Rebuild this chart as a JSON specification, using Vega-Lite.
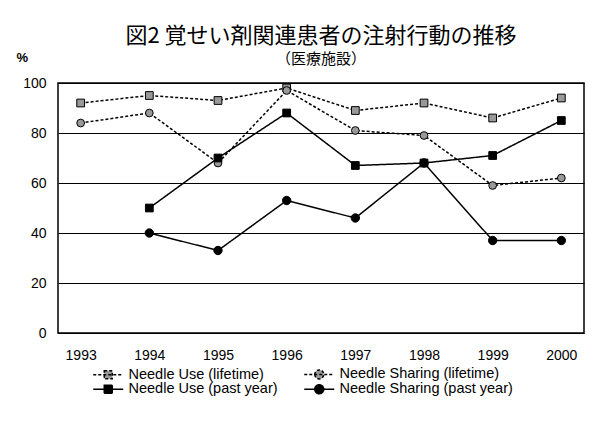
{
  "$schema": "https://vega.github.io/schema/vega-lite/v6.json",
  "width": 526,
  "height": 250,
  "autosize": "none",
  "padding": {"left": 58, "top": 83, "right": 30, "bottom": 97},
  "background": "white",
  "config": {"view": {"stroke": "black", "strokeWidth": 1.5}, "font": "Liberation Sans"},
  "title": {
    "text": "図2  覚せい剤関連患者の注射行動の推移",
    "subtitle": "（医療施設）",
    "font": "Noto Sans CJK JP",
    "fontSize": 22,
    "fontWeight": "normal",
    "subtitleFont": "Noto Sans CJK JP",
    "subtitleFontSize": 15,
    "anchor": "middle",
    "frame": "group",
    "offset": -17,
    "subtitlePadding": 4,
    "color": "black",
    "subtitleColor": "black"
  },
  "data": {
    "values": [
      {"year": "1993", "series": "Needle Use (lifetime)", "value": 92},
      {"year": "1994", "series": "Needle Use (lifetime)", "value": 95},
      {"year": "1995", "series": "Needle Use (lifetime)", "value": 93},
      {"year": "1996", "series": "Needle Use (lifetime)", "value": 98},
      {"year": "1997", "series": "Needle Use (lifetime)", "value": 89},
      {"year": "1998", "series": "Needle Use (lifetime)", "value": 92},
      {"year": "1999", "series": "Needle Use (lifetime)", "value": 86},
      {"year": "2000", "series": "Needle Use (lifetime)", "value": 94},
      {"year": "1993", "series": "Needle Sharing (lifetime)", "value": 84},
      {"year": "1994", "series": "Needle Sharing (lifetime)", "value": 88},
      {"year": "1995", "series": "Needle Sharing (lifetime)", "value": 68},
      {"year": "1996", "series": "Needle Sharing (lifetime)", "value": 97},
      {"year": "1997", "series": "Needle Sharing (lifetime)", "value": 81},
      {"year": "1998", "series": "Needle Sharing (lifetime)", "value": 79},
      {"year": "1999", "series": "Needle Sharing (lifetime)", "value": 59},
      {"year": "2000", "series": "Needle Sharing (lifetime)", "value": 62},
      {"year": "1994", "series": "Needle Use (past year)", "value": 50},
      {"year": "1995", "series": "Needle Use (past year)", "value": 70},
      {"year": "1996", "series": "Needle Use (past year)", "value": 88},
      {"year": "1997", "series": "Needle Use (past year)", "value": 67},
      {"year": "1998", "series": "Needle Use (past year)", "value": 68},
      {"year": "1999", "series": "Needle Use (past year)", "value": 71},
      {"year": "2000", "series": "Needle Use (past year)", "value": 85},
      {"year": "1994", "series": "Needle Sharing (past year)", "value": 40},
      {"year": "1995", "series": "Needle Sharing (past year)", "value": 33},
      {"year": "1996", "series": "Needle Sharing (past year)", "value": 53},
      {"year": "1997", "series": "Needle Sharing (past year)", "value": 46},
      {"year": "1998", "series": "Needle Sharing (past year)", "value": 68},
      {"year": "1999", "series": "Needle Sharing (past year)", "value": 37},
      {"year": "2000", "series": "Needle Sharing (past year)", "value": 37}
    ]
  },
  "encoding": {
    "x": {
      "field": "year",
      "type": "ordinal",
      "scale": {"type": "point", "padding": 0.33},
      "axis": {"title": null, "labelAngle": 0, "ticks": false, "domain": false, "grid": false, "labelFontSize": 14, "labelColor": "black", "labelPadding": 15}
    },
    "y": {
      "field": "value",
      "type": "quantitative",
      "scale": {"domain": [0, 100]},
      "axis": {
        "title": "%",
        "values": [0, 20, 40, 60, 80, 100],
        "grid": true,
        "gridColor": "black",
        "gridWidth": 1,
        "ticks": false,
        "domain": false,
        "labelFontSize": 14,
        "labelColor": "black",
        "labelPadding": 12,
        "titleAngle": 0,
        "titleX": -42,
        "titleY": -26,
        "titleAlign": "left",
        "titleBaseline": "middle",
        "titleFontSize": 13,
        "titleFontWeight": "bold",
        "titleColor": "black"
      }
    }
  },
  "layer": [
    {
      "mark": {"type": "line", "color": "black", "strokeWidth": 1.5},
      "encoding": {
        "strokeDash": {
          "field": "series",
          "type": "nominal",
          "scale": {
            "domain": ["Needle Use (lifetime)", "Needle Sharing (lifetime)", "Needle Use (past year)", "Needle Sharing (past year)"],
            "range": [[3, 2], [3, 2], [1, 0], [1, 0]]
          },
          "legend": {
            "title": null,
            "orient": "none",
            "legendX": 43,
            "legendY": 284,
            "direction": "horizontal",
            "columns": 2,
            "columnPadding": 23,
            "rowPadding": -3,
            "labelFontSize": 14.5,
            "labelColor": "black",
            "labelOffset": 13,
            "labelLimit": 400,
            "symbolSize": 100,
            "symbolStrokeColor": "black",
            "symbolStrokeWidth": 1.5,
            "padding": 0,
            "encode": {
              "symbols": {
                "update": {
                  "shape": {"signal": "indexof(datum.value,'Use')>=0 ? 'M-3,0H3M-0.8,-0.8H0.8V0.8H-0.8Z' : 'M-3,0H3M-0.9,0A0.9,0.9,0,1,0,0.9,0A0.9,0.9,0,1,0,-0.9,0Z'"},
                  "fill": {"signal": "indexof(datum.value,'past')>=0 ? 'black' : '#999999'"},
                  "stroke": {"value": "black"},
                  "strokeWidth": {"value": 1.5},
                  "strokeOpacity": {"value": 1},
                  "opacity": {"value": 1}
                }
              }
            }
          }
        }
      }
    },
    {
      "transform": [{"filter": "datum.series == 'Needle Use (lifetime)'"}],
      "mark": {"type": "point", "shape": "square", "filled": true, "size": 60, "fill": "#999999", "stroke": "black", "strokeWidth": 1, "opacity": 1}
    },
    {
      "transform": [{"filter": "datum.series == 'Needle Sharing (lifetime)'"}],
      "mark": {"type": "point", "shape": "circle", "filled": true, "size": 60, "fill": "#999999", "stroke": "black", "strokeWidth": 1, "opacity": 1}
    },
    {
      "transform": [{"filter": "datum.series == 'Needle Use (past year)'"}],
      "mark": {"type": "point", "shape": "square", "filled": true, "size": 60, "fill": "black", "stroke": "black", "strokeWidth": 1, "opacity": 1}
    },
    {
      "transform": [{"filter": "datum.series == 'Needle Sharing (past year)'"}],
      "mark": {"type": "point", "shape": "circle", "filled": true, "size": 70, "fill": "black", "stroke": "black", "strokeWidth": 1, "opacity": 1}
    }
  ]
}
